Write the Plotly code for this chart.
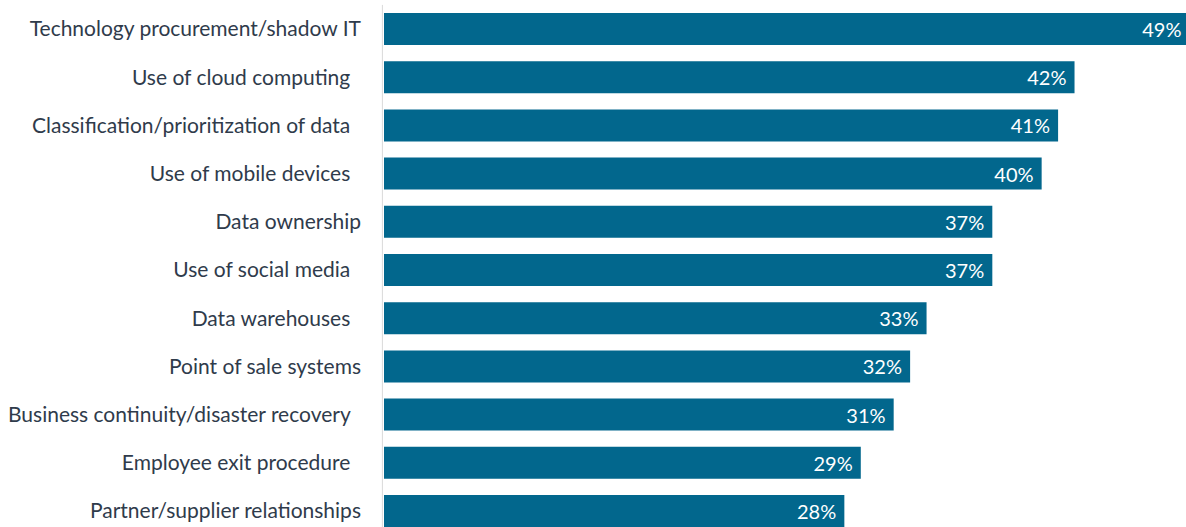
import plotly.graph_objects as go

# Survey areas (top to bottom) and share of respondents, in percent
categories = [
    "Technology procurement/shadow IT",
    "Use of cloud computing\u00a0\u00a0",
    "Classification/prioritization of data\u00a0\u00a0",
    "Use of mobile devices\u00a0\u00a0",
    "Data ownership",
    "Use of social media\u00a0\u00a0",
    "Data warehouses\u00a0\u00a0",
    "Point of sale systems",
    "Business continuity/disaster recovery\u00a0\u00a0",
    "Employee exit procedure\u00a0\u00a0",
    "Partner/supplier relationships",
]
values = [49, 42, 41, 40, 37, 37, 33, 32, 31, 29, 28]

BAR_COLOR = "#02678d"
LABEL_COLOR = "#2f3b4b"
FONT = "Lato"

fig = go.Figure(
    go.Bar(
        x=values,
        y=categories,
        orientation="h",
        marker=dict(color=BAR_COLOR, line=dict(width=0)),
        texttemplate="%{x}%\u00a0",
        textposition="inside",
        insidetextanchor="end",
        textfont=dict(family=FONT, size=20, color="white"),
        cliponaxis=True,
    )
)

n = len(categories)
fig.update_layout(
    width=1186,
    height=527,
    margin=dict(l=384, r=0, t=0, b=0),
    plot_bgcolor="white",
    paper_bgcolor="white",
    bargap=0.336,
    showlegend=False,
    uniformtext=dict(minsize=20, mode="show"),
    xaxis=dict(
        range=[0, 48.78],
        visible=False,
        showgrid=False,
        zeroline=False,
        fixedrange=True,
    ),
    yaxis=dict(
        type="category",
        categoryorder="array",
        categoryarray=categories,
        range=[n - 1 + 0.332, -0.602],
        showgrid=False,
        zeroline=False,
        showline=False,
        ticks="",
        ticklabelstandoff=22,
        tickfont=dict(family=FONT, size=21, color=LABEL_COLOR),
    ),
    shapes=[
        dict(
            type="line",
            xref="paper",
            yref="y",
            x0=-0.002,
            x1=-0.002,
            y0=-0.5,
            y1=n - 0.5,
            line=dict(color="#d9d9d9", width=1),
        )
    ],
)

fig.write_html("out.html")
